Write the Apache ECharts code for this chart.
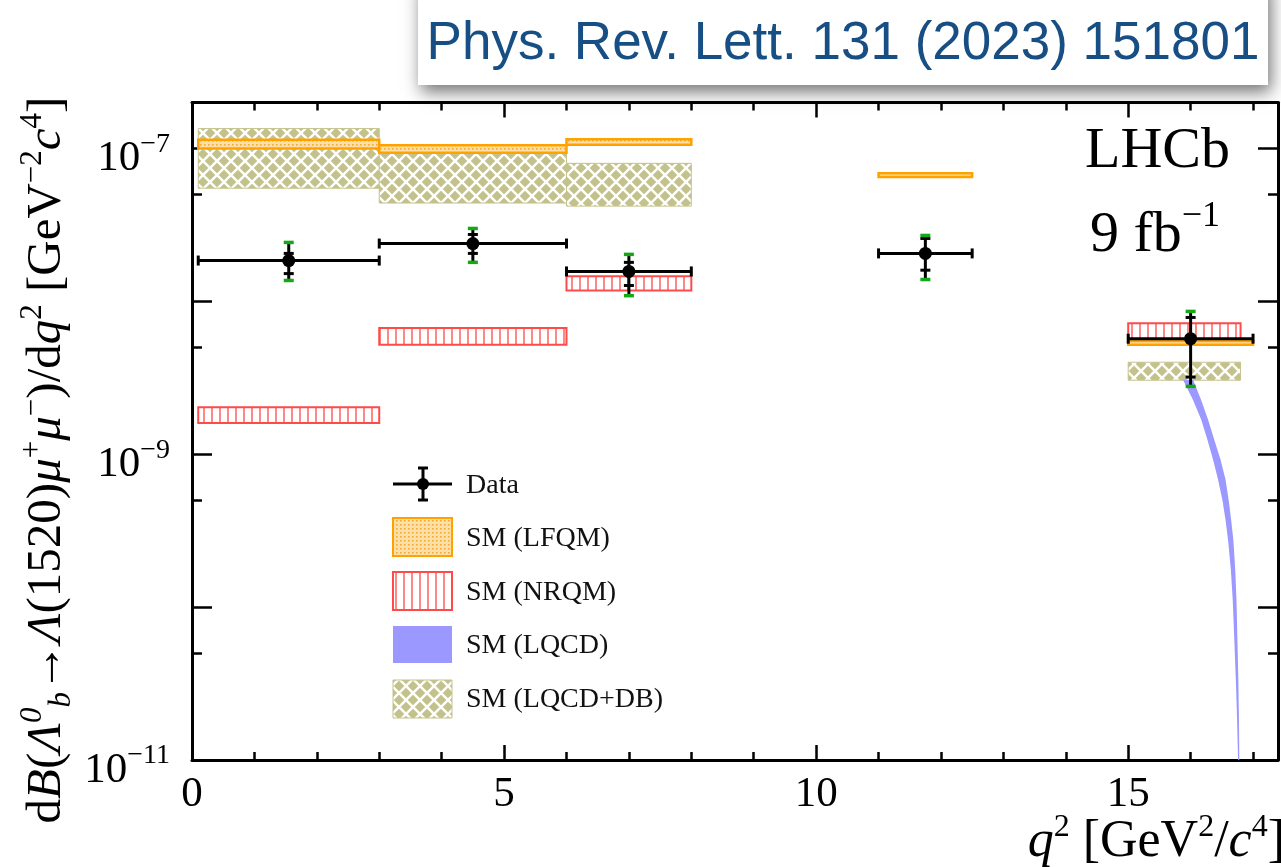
<!DOCTYPE html>
<html><head><meta charset="utf-8">
<script src="https://cdn.jsdelivr.net/npm/echarts@6/dist/echarts.min.js"></script>
<style>html,body{margin:0;padding:0;background:#fff}#c{width:1281px;height:867px}</style>
</head><body><div id="c"></div>
<script>
// ---------------- data ----------------
const xTickLabels = [0, 5, 10, 15];
const yTickExponents = [-7, -9, -11];

// Data points
const dataBinLo = [0.1, 3, 6, 11, 15];
const dataBinHi = [3, 6, 8, 12.5, 17];
const dataX = [1.55, 4.5, 7.0, 11.75, 16.0];
const dataY = [1.85e-8, 2.39e-8, 1.57e-8, 2.06e-8, 5.7e-9];
const statLo = [1.52e-8, 2.06e-8, 1.27e-8, 1.60e-8, 3.2e-9];
const statHi = [2.06e-8, 2.74e-8, 1.80e-8, 2.58e-8, 7.85e-9];
const totLo = [1.37e-8, 1.80e-8, 1.09e-8, 1.39e-8, 2.78e-9];
const totHi = [2.43e-8, 3.00e-8, 2.03e-8, 2.70e-8, 8.6e-9];

// SM (LFQM)
const lfqmBinLo = [0.1, 3, 6, 11, 15];
const lfqmBinHi = [3, 6, 8, 12.5, 17];
const lfqmLo = [1.0e-7, 9.4e-8, 1.06e-7, 6.5e-8, 5.2e-9];
const lfqmHi = [1.14e-7, 1.05e-7, 1.15e-7, 6.9e-8, 5.5e-9];

// SM (NRQM)
const nrqmBinLo = [0.1, 3, 6, 15];
const nrqmBinHi = [3, 6, 8, 16.8];
const nrqmLo = [1.6e-9, 5.2e-9, 1.18e-8, 5.3e-9];
const nrqmHi = [2.03e-9, 6.7e-9, 1.46e-8, 7.2e-9];

// SM (LQCD+DB)
const dbBinLo = [0.1, 3, 6, 15];
const dbBinHi = [3, 6, 8, 16.8];
const dbLo = [5.5e-8, 4.4e-8, 4.2e-8, 3.05e-9];
const dbHi = [1.35e-7, 9.3e-8, 8.0e-8, 4.0e-9];

// SM (LQCD) band edges (upper = right edge, lower = left edge)
const lqcdY   = [3.06e-9, 2.26e-9, 1.68e-9, 1.24e-9, 9.2e-10, 6.8e-10, 5.0e-10, 3.7e-10, 2.75e-10, 1.75e-10, 1.11e-10, 6.1e-11, 3.3e-11, 1.8e-11, 1.0e-11];
const lqcdUpX = [16.04, 16.17, 16.28, 16.38, 16.48, 16.56, 16.61, 16.65, 16.685, 16.715, 16.735, 16.75, 16.765, 16.775, 16.78];
const lqcdLoX = [15.88, 16.04, 16.17, 16.27, 16.36, 16.44, 16.51, 16.56, 16.60, 16.645, 16.675, 16.70, 16.725, 16.745, 16.76];

// ---------------- patterns ----------------
function oliveCanvas() {
  const s = 14, c = document.createElement('canvas'); c.width = s; c.height = s;
  const g = c.getContext('2d');
  g.fillStyle = '#c4c28c'; g.fillRect(0, 0, s, s);
  g.strokeStyle = '#ffffff'; g.lineWidth = 2.4;
  g.beginPath(); g.moveTo(0, 0); g.lineTo(s, s); g.moveTo(s, 0); g.lineTo(0, s); g.stroke();
  return c;
}
function redCanvas() {
  const c = document.createElement('canvas'); c.width = 8; c.height = 8;
  const g = c.getContext('2d');
  g.fillStyle = '#ffffff'; g.fillRect(0, 0, 8, 8);
  g.strokeStyle = '#ff6a6a'; g.lineWidth = 1.6;
  g.beginPath(); g.moveTo(4, 0); g.lineTo(4, 8); g.stroke();
  return c;
}
function orangeCanvas() {
  const c = document.createElement('canvas'); c.width = 4; c.height = 4;
  const g = c.getContext('2d');
  g.fillStyle = '#fde0a8'; g.fillRect(0, 0, 4, 4);
  g.fillStyle = '#f3a93a'; g.fillRect(0, 0, 1.6, 1.6);
  return c;
}
const olivePat = { image: oliveCanvas(), repeat: 'repeat' };
const redPat = { image: redCanvas(), repeat: 'repeat' };
const orangePat = { image: orangeCanvas(), repeat: 'repeat' };
const ORANGE = '#ffa200', RED = '#ff4a4a', BLUE = '#9b99ff', GREEN = '#14a814';

function boxRender(fill, stroke, lw) {
  return function (params, api) {
    const p0 = api.coord([api.value(0), api.value(3)]);
    const p1 = api.coord([api.value(1), api.value(2)]);
    return {
      type: 'rect',
      shape: { x: p0[0], y: p0[1], width: p1[0] - p0[0], height: Math.max(p1[1] - p0[1], 0.5) },
      style: { fill: fill, stroke: stroke, lineWidth: lw }
    };
  };
}

const serif = 'Liberation Serif';
const ytickRich = {
  n: { fontSize: 43, fontFamily: serif, color: '#000', lineHeight: 50, verticalAlign: 'bottom' },
  s: { fontSize: 28, fontFamily: serif, color: '#000', lineHeight: 14, verticalAlign: 'top' }
};

function tickAxisCommon(extra) {
  return Object.assign({
    axisLine: { show: false, onZero: false },
    splitLine: { show: false },
    axisLabel: { show: false }
  }, extra);
}

const XMAX = 17.4, YMIN = 1e-11, YMAX = 2e-7;
const FIVE = Math.log10(5);

const option = {
  animation: false,
  backgroundColor: '#fff',
  grid: { left: 192, right: 2, top: 102.5, bottom: 107 },
  xAxis: [
    {
      type: 'value', min: 0, max: XMAX, interval: 5, position: 'bottom',
      axisLine: { show: true, onZero: false, lineStyle: { color: '#000', width: 3 } },
      axisTick: { inside: true, length: 15, lineStyle: { color: '#000', width: 2.5 } },
      axisLabel: {
        fontSize: 43, fontFamily: serif, color: '#000', margin: 13,
        formatter: function (v) { return xTickLabels.indexOf(v) >= 0 ? String(v) : ''; }
      },
      splitLine: { show: false }
    },
    tickAxisCommon({ type: 'value', min: 0, max: XMAX, interval: 1, position: 'bottom',
      axisTick: { inside: true, length: 8, lineStyle: { color: '#000', width: 2.5 } } }),
    {
      type: 'value', min: 0, max: XMAX, interval: 5, position: 'top',
      axisLine: { show: true, onZero: false, lineStyle: { color: '#000', width: 3 } },
      axisTick: { inside: true, length: 15, lineStyle: { color: '#000', width: 2.5 } },
      axisLabel: { show: false }, splitLine: { show: false }
    },
    tickAxisCommon({ type: 'value', min: 0, max: XMAX, interval: 1, position: 'top',
      axisTick: { inside: true, length: 8, lineStyle: { color: '#000', width: 2.5 } } })
  ],
  yAxis: [
    {
      type: 'log', logBase: 10, min: YMIN, max: YMAX, position: 'left',
      axisLine: { show: true, onZero: false, lineStyle: { color: '#000', width: 3 } },
      axisTick: { inside: true, length: 20, lineStyle: { color: '#000', width: 2.5 } },
      axisLabel: {
        margin: 22, rich: ytickRich, padding: [14, 0, 0, 0],
        formatter: function (v) {
          const e = Math.log10(v), r = Math.round(e);
          if (Math.abs(e - r) > 1e-6) return '';
          if (yTickExponents.indexOf(r) < 0) return '';
          return '{n|10}{s|\u2212' + (-r) + '}';
        }
      },
      splitLine: { show: false }
    },
    {
      type: 'log', logBase: 10, min: YMIN, max: YMAX, position: 'right',
      axisLine: { show: true, onZero: false, lineStyle: { color: '#000', width: 3 } },
      axisTick: { inside: true, length: 20, lineStyle: { color: '#000', width: 2.5 } },
      axisLabel: { show: false }, splitLine: { show: false }
    },
    // 5 x 10^k ticks: a linear axis of log10(v/5); auto (nice) ticks fall on integers
    tickAxisCommon({ type: 'value', min: Math.log10(YMIN) - FIVE, max: Math.log10(YMAX) - FIVE, splitNumber: 4, position: 'left',
      axisTick: { inside: true, length: 10, lineStyle: { color: '#000', width: 2.5 } } }),
    tickAxisCommon({ type: 'value', min: Math.log10(YMIN) - FIVE, max: Math.log10(YMAX) - FIVE, splitNumber: 4, position: 'right',
      axisTick: { inside: true, length: 10, lineStyle: { color: '#000', width: 2.5 } } })
  ],
  series: [
    {
      name: 'SM (LQCD+DB)', type: 'custom', clip: true, z: 2,
      data: dbBinLo.map((x0, i) => [x0, dbBinHi[i], dbLo[i], dbHi[i]]),
      encode: { x: [0, 1], y: [2, 3] },
      renderItem: boxRender(olivePat, '#c4c28c', 1)
    },
    {
      name: 'SM (NRQM)', type: 'custom', clip: true, z: 3,
      data: nrqmBinLo.map((x0, i) => [x0, nrqmBinHi[i], nrqmLo[i], nrqmHi[i]]),
      encode: { x: [0, 1], y: [2, 3] },
      renderItem: boxRender(redPat, RED, 2)
    },
    {
      name: 'SM (LFQM)', type: 'custom', clip: true, z: 4,
      data: lfqmBinLo.map((x0, i) => [x0, lfqmBinHi[i], lfqmLo[i], lfqmHi[i]]),
      encode: { x: [0, 1], y: [2, 3] },
      renderItem: boxRender(orangePat, ORANGE, 2.5)
    },
    {
      name: 'SM (LQCD)', type: 'custom', clip: true, z: 5,
      data: lqcdUpX.map((x, i) => [x, lqcdY[i]]).concat(lqcdLoX.map((x, i) => [x, lqcdY[i]]).reverse()),
      encode: { x: 0, y: 1 },
      renderItem: function (params, api) {
        if (params.dataIndex !== 0) return null;
        const pts = [];
        for (let i = 0; i < lqcdUpX.length; i++) pts.push(api.coord([lqcdUpX[i], lqcdY[i]]));
        for (let i = lqcdLoX.length - 1; i >= 0; i--) pts.push(api.coord([lqcdLoX[i], lqcdY[i]]));
        return { type: 'polygon', shape: { points: pts }, style: { fill: BLUE, stroke: null } };
      }
    },
    {
      name: 'Data', type: 'custom', clip: false, z: 10,
      data: dataX.map((x, i) => [x, dataBinLo[i], dataBinHi[i], dataY[i], statLo[i], statHi[i], totLo[i], totHi[i]]),
      encode: { x: 0, y: 3 },
      renderItem: function (params, api) {
        const x = api.value(0), y = api.value(3);
        const c = api.coord([x, y]);
        const a = api.coord([api.value(1), y]);
        const b = api.coord([api.value(2), y]);
        const ySL = api.coord([x, api.value(4)])[1];
        const ySH = api.coord([x, api.value(5)])[1];
        const yTL = api.coord([x, api.value(6)])[1];
        const yTH = api.coord([x, api.value(7)])[1];
        const blk = { stroke: '#000', lineWidth: 3 };
        const grn = { stroke: GREEN, lineWidth: 3.5 };
        const w = 5;
        return {
          type: 'group',
          children: [
            { type: 'line', shape: { x1: a[0], y1: c[1], x2: b[0], y2: c[1] }, style: blk },
            { type: 'line', shape: { x1: a[0], y1: c[1] - 5, x2: a[0], y2: c[1] + 5 }, style: blk },
            { type: 'line', shape: { x1: b[0], y1: c[1] - 5, x2: b[0], y2: c[1] + 5 }, style: blk },
            { type: 'line', shape: { x1: c[0], y1: yTH, x2: c[0], y2: yTL }, style: blk },
            { type: 'line', shape: { x1: c[0] - w, y1: ySH, x2: c[0] + w, y2: ySH }, style: blk },
            { type: 'line', shape: { x1: c[0] - w, y1: ySL, x2: c[0] + w, y2: ySL }, style: blk },
            { type: 'line', shape: { x1: c[0] - w, y1: yTH, x2: c[0] + w, y2: yTH }, style: grn },
            { type: 'line', shape: { x1: c[0] - w, y1: yTL, x2: c[0] + w, y2: yTL }, style: grn },
            { type: 'circle', shape: { cx: c[0], cy: c[1], r: 6.5 }, style: { fill: '#000' } }
          ]
        };
      }
    }
  ],
  graphic: [
    // legend
    { type: 'line', z: 20, shape: { x1: 393, y1: 484, x2: 452, y2: 484 }, style: { stroke: '#000', lineWidth: 3 } },
    { type: 'line', z: 20, shape: { x1: 423, y1: 468, x2: 423, y2: 500 }, style: { stroke: '#000', lineWidth: 3 } },
    { type: 'line', z: 20, shape: { x1: 418, y1: 468, x2: 428, y2: 468 }, style: { stroke: '#000', lineWidth: 3 } },
    { type: 'line', z: 20, shape: { x1: 418, y1: 500, x2: 428, y2: 500 }, style: { stroke: '#000', lineWidth: 3 } },
    { type: 'circle', z: 20, shape: { cx: 423, cy: 484, r: 6 }, style: { fill: '#000' } },
    { type: 'text', z: 20, x: 466, y: 486, style: { text: 'Data', font: '28px "Liberation Serif"', fill: '#111', verticalAlign: 'middle' } },
    { type: 'rect', z: 20, shape: { x: 393, y: 518, width: 59, height: 38 }, style: { fill: orangePat, stroke: ORANGE, lineWidth: 2 } },
    { type: 'text', z: 20, x: 466, y: 539, style: { text: 'SM (LFQM)', font: '28px "Liberation Serif"', fill: '#111', verticalAlign: 'middle' } },
    { type: 'rect', z: 20, shape: { x: 393, y: 572, width: 59, height: 38 }, style: { fill: redPat, stroke: RED, lineWidth: 2 } },
    { type: 'text', z: 20, x: 466, y: 593, style: { text: 'SM (NRQM)', font: '28px "Liberation Serif"', fill: '#111', verticalAlign: 'middle' } },
    { type: 'rect', z: 20, shape: { x: 393, y: 626, width: 59, height: 37 }, style: { fill: BLUE } },
    { type: 'text', z: 20, x: 466, y: 646, style: { text: 'SM (LQCD)', font: '28px "Liberation Serif"', fill: '#111', verticalAlign: 'middle' } },
    { type: 'rect', z: 20, shape: { x: 393, y: 680, width: 59, height: 38 }, style: { fill: olivePat, stroke: '#c4c28c', lineWidth: 1 } },
    { type: 'text', z: 20, x: 466, y: 700, style: { text: 'SM (LQCD+DB)', font: '28px "Liberation Serif"', fill: '#111', verticalAlign: 'middle' } },
    // LHCb label
    { type: 'text', z: 20, x: 1085, y: 152, style: { text: 'LHCb', font: '58px "Liberation Serif"', fill: '#000', verticalAlign: 'middle' } },
    { type: 'text', z: 20, x: 1090, y: 232, style: {
        text: '{n|9 fb}{s|\u22121}', verticalAlign: 'middle',
        rich: {
          n: { fontSize: 58, fontFamily: serif, color: '#000', lineHeight: 66, verticalAlign: 'bottom' },
          s: { fontSize: 36, fontFamily: serif, color: '#000', lineHeight: 40, verticalAlign: 'top' }
        } } },
    // x-axis title
    { type: 'text', z: 20, x: 1285, y: 840, style: {
        text: '{i|q}{s|2}{n| [GeV}{s|2}{n|/}{i|c}{s|4}{n|]}', align: 'right', verticalAlign: 'middle',
        rich: {
          n: { fontSize: 52, fontFamily: serif, color: '#000', lineHeight: 56, verticalAlign: 'bottom' },
          i: { fontSize: 52, fontFamily: serif, fontStyle: 'italic', color: '#000', lineHeight: 56, verticalAlign: 'bottom' },
          s: { fontSize: 32, fontFamily: serif, color: '#000', lineHeight: 24, verticalAlign: 'top' }
        } } },
    // y-axis title
    { type: 'text', z: 20, x: 47, y: 460, rotation: Math.PI / 2, style: {
        text: '{n|d}{i|B}{n|(}{i|\u039b}{si|0}{bi|b}{n|\u2192}{i|\u039b}{n|(1520)}{i|\u03bc}{s|+}{i|\u03bc}{s|\u2212}{n|)/d}{i|q}{s|2}{n| [GeV}{s|\u22122}{i|c}{s|4}{n|]}',
        align: 'center', verticalAlign: 'middle',
        rich: {
          n: { fontSize: 49, fontFamily: serif, color: '#000', lineHeight: 60, verticalAlign: 'middle' },
          i: { fontSize: 49, fontFamily: serif, fontStyle: 'italic', color: '#000', lineHeight: 60, verticalAlign: 'middle' },
          s: { fontSize: 31, fontFamily: serif, color: '#000', lineHeight: 34, verticalAlign: 'top' },
          si: { fontSize: 31, fontFamily: serif, fontStyle: 'italic', color: '#000', lineHeight: 34, verticalAlign: 'top' },
          bi: { fontSize: 31, fontFamily: serif, fontStyle: 'italic', color: '#000', lineHeight: 34, verticalAlign: 'bottom' }
        } } },
    // reference box
    { type: 'rect', z: 30, shape: { x: 418, y: -20, width: 850, height: 105 },
      style: { fill: '#fff', shadowBlur: 16, shadowOffsetX: 3, shadowOffsetY: 7, shadowColor: 'rgba(0,0,0,0.55)' } },
    { type: 'text', z: 31, x: 843, y: 44, style: {
        text: 'Phys. Rev. Lett. 131 (2023) 151801', font: '53px "Liberation Sans"', fill: '#174f84',
        align: 'center', verticalAlign: 'middle' } }
  ]
};

const chart = echarts.init(document.getElementById('c'), null, { renderer: 'canvas' });
chart.setOption(option);
</script>
</body></html>
